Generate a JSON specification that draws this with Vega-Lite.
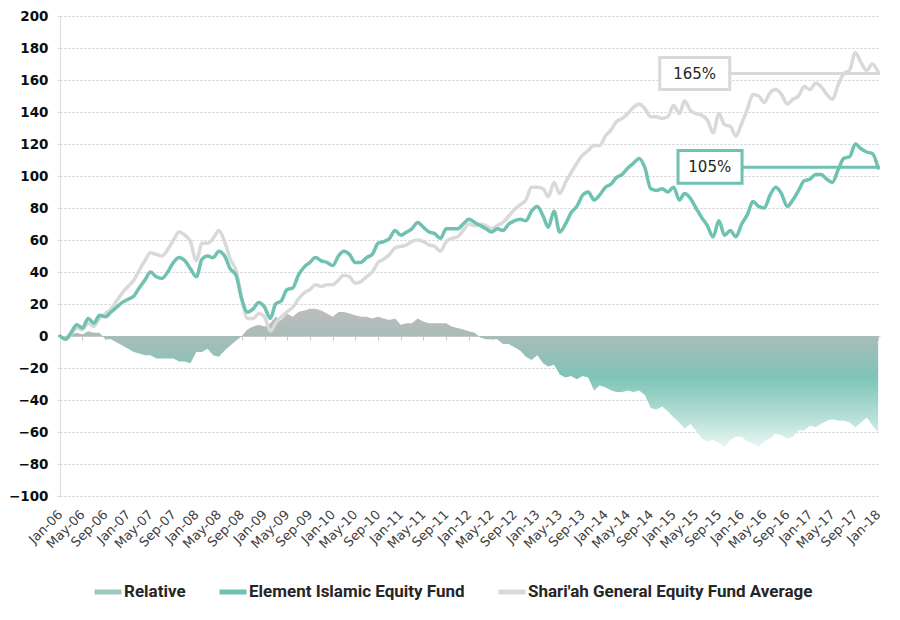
{
  "$schema": "https://vega.github.io/schema/vega-lite/v6.json",
  "width": 820,
  "height": 480,
  "autosize": {"type": "none"},
  "padding": {"left": 60, "top": 16, "right": 20, "bottom": 124},
  "background": "white",
  "config": {
    "view": {"stroke": null},
    "font": "DejaVu Sans",
    "axis": {"title": null},
    "axisY": {
      "tickCount": 20, "labelOverlap": false, "labelFlush": false, "labelBound": false,
      "grid": true, "gridColor": "#cfcfcf", "gridDash": [2, 2], "gridWidth": 1,
      "domain": true, "domainColor": "#d9d9d9", "ticks": true, "tickSize": 3, "tickColor": "#d9d9d9",
      "labelFont": "DejaVu Sans", "labelFontSize": 13.5, "labelFontWeight": "bold",
      "labelColor": "#0d0d0d", "labelPadding": 9
    },
    "axisX": {
      "labelOverlap": false, "labelFlush": false, "labelBound": false, "grid": false
    }
  },
  "datasets": {
    "series": [
      {"month":"2006-01-01","element":0,"shariah":0,"relative":0},
      {"month":"2006-02-01","element":-2,"shariah":-2,"relative":0},
      {"month":"2006-03-01","element":2,"shariah":1,"relative":1},
      {"month":"2006-04-01","element":7,"shariah":5,"relative":2},
      {"month":"2006-05-01","element":5,"shariah":4,"relative":1},
      {"month":"2006-06-01","element":11,"shariah":8,"relative":3},
      {"month":"2006-07-01","element":8,"shariah":6,"relative":2},
      {"month":"2006-08-01","element":13,"shariah":11,"relative":2},
      {"month":"2006-09-01","element":12,"shariah":14,"relative":-2},
      {"month":"2006-10-01","element":15,"shariah":17,"relative":-2},
      {"month":"2006-11-01","element":18,"shariah":22,"relative":-4},
      {"month":"2006-12-01","element":21,"shariah":27,"relative":-6},
      {"month":"2007-01-01","element":23,"shariah":31,"relative":-8},
      {"month":"2007-02-01","element":25,"shariah":35,"relative":-10},
      {"month":"2007-03-01","element":30,"shariah":41,"relative":-11},
      {"month":"2007-04-01","element":35,"shariah":47,"relative":-12},
      {"month":"2007-05-01","element":40,"shariah":52,"relative":-12},
      {"month":"2007-06-01","element":37,"shariah":51,"relative":-14},
      {"month":"2007-07-01","element":36,"shariah":50,"relative":-14},
      {"month":"2007-08-01","element":40,"shariah":54,"relative":-14},
      {"month":"2007-09-01","element":46,"shariah":60,"relative":-14},
      {"month":"2007-10-01","element":49,"shariah":65,"relative":-16},
      {"month":"2007-11-01","element":47,"shariah":63,"relative":-16},
      {"month":"2007-12-01","element":42,"shariah":59,"relative":-17},
      {"month":"2008-01-01","element":37,"shariah":47,"relative":-10},
      {"month":"2008-02-01","element":48,"shariah":58,"relative":-10},
      {"month":"2008-03-01","element":50,"shariah":58,"relative":-8},
      {"month":"2008-04-01","element":49,"shariah":61,"relative":-12},
      {"month":"2008-05-01","element":53,"shariah":66,"relative":-13},
      {"month":"2008-06-01","element":50,"shariah":59,"relative":-9},
      {"month":"2008-07-01","element":42,"shariah":48,"relative":-6},
      {"month":"2008-08-01","element":38,"shariah":41,"relative":-3},
      {"month":"2008-09-01","element":23,"shariah":23,"relative":0},
      {"month":"2008-10-01","element":15,"shariah":11,"relative":4},
      {"month":"2008-11-01","element":17,"shariah":11,"relative":6},
      {"month":"2008-12-01","element":21,"shariah":14,"relative":7},
      {"month":"2009-01-01","element":18,"shariah":12,"relative":6},
      {"month":"2009-02-01","element":11,"shariah":3,"relative":8},
      {"month":"2009-03-01","element":20,"shariah":8,"relative":12},
      {"month":"2009-04-01","element":22,"shariah":12,"relative":10},
      {"month":"2009-05-01","element":29,"shariah":15,"relative":14},
      {"month":"2009-06-01","element":30,"shariah":18,"relative":12},
      {"month":"2009-07-01","element":38,"shariah":23,"relative":15},
      {"month":"2009-08-01","element":43,"shariah":27,"relative":16},
      {"month":"2009-09-01","element":46,"shariah":29,"relative":17},
      {"month":"2009-10-01","element":49,"shariah":32,"relative":17},
      {"month":"2009-11-01","element":47,"shariah":31,"relative":16},
      {"month":"2009-12-01","element":46,"shariah":32,"relative":14},
      {"month":"2010-01-01","element":44,"shariah":32,"relative":12},
      {"month":"2010-02-01","element":50,"shariah":35,"relative":15},
      {"month":"2010-03-01","element":53,"shariah":38,"relative":15},
      {"month":"2010-04-01","element":51,"shariah":37,"relative":14},
      {"month":"2010-05-01","element":46,"shariah":33,"relative":13},
      {"month":"2010-06-01","element":46,"shariah":34,"relative":12},
      {"month":"2010-07-01","element":49,"shariah":37,"relative":12},
      {"month":"2010-08-01","element":51,"shariah":40,"relative":11},
      {"month":"2010-09-01","element":58,"shariah":46,"relative":12},
      {"month":"2010-10-01","element":59,"shariah":48,"relative":11},
      {"month":"2010-11-01","element":61,"shariah":51,"relative":10},
      {"month":"2010-12-01","element":66,"shariah":55,"relative":11},
      {"month":"2011-01-01","element":63,"shariah":56,"relative":7},
      {"month":"2011-02-01","element":65,"shariah":57,"relative":8},
      {"month":"2011-03-01","element":67,"shariah":59,"relative":8},
      {"month":"2011-04-01","element":71,"shariah":60,"relative":11},
      {"month":"2011-05-01","element":68,"shariah":59,"relative":9},
      {"month":"2011-06-01","element":65,"shariah":57,"relative":8},
      {"month":"2011-07-01","element":64,"shariah":56,"relative":8},
      {"month":"2011-08-01","element":61,"shariah":53,"relative":8},
      {"month":"2011-09-01","element":67,"shariah":59,"relative":8},
      {"month":"2011-10-01","element":67,"shariah":61,"relative":6},
      {"month":"2011-11-01","element":67,"shariah":62,"relative":5},
      {"month":"2011-12-01","element":70,"shariah":66,"relative":4},
      {"month":"2012-01-01","element":73,"shariah":70,"relative":3},
      {"month":"2012-02-01","element":71,"shariah":69,"relative":2},
      {"month":"2012-03-01","element":69,"shariah":70,"relative":-1},
      {"month":"2012-04-01","element":67,"shariah":69,"relative":-2},
      {"month":"2012-05-01","element":65,"shariah":67,"relative":-2},
      {"month":"2012-06-01","element":67,"shariah":69,"relative":-2},
      {"month":"2012-07-01","element":66,"shariah":71,"relative":-5},
      {"month":"2012-08-01","element":70,"shariah":75,"relative":-5},
      {"month":"2012-09-01","element":72,"shariah":79,"relative":-7},
      {"month":"2012-10-01","element":73,"shariah":82,"relative":-9},
      {"month":"2012-11-01","element":72,"shariah":85,"relative":-13},
      {"month":"2012-12-01","element":78,"shariah":93,"relative":-15},
      {"month":"2013-01-01","element":81,"shariah":93,"relative":-12},
      {"month":"2013-02-01","element":75,"shariah":92,"relative":-17},
      {"month":"2013-03-01","element":68,"shariah":87,"relative":-19},
      {"month":"2013-04-01","element":78,"shariah":96,"relative":-18},
      {"month":"2013-05-01","element":65,"shariah":89,"relative":-24},
      {"month":"2013-06-01","element":70,"shariah":96,"relative":-26},
      {"month":"2013-07-01","element":77,"shariah":102,"relative":-25},
      {"month":"2013-08-01","element":81,"shariah":108,"relative":-27},
      {"month":"2013-09-01","element":88,"shariah":113,"relative":-25},
      {"month":"2013-10-01","element":90,"shariah":116,"relative":-26},
      {"month":"2013-11-01","element":85,"shariah":119,"relative":-34},
      {"month":"2013-12-01","element":88,"shariah":119,"relative":-31},
      {"month":"2014-01-01","element":93,"shariah":125,"relative":-32},
      {"month":"2014-02-01","element":95,"shariah":129,"relative":-34},
      {"month":"2014-03-01","element":99,"shariah":134,"relative":-35},
      {"month":"2014-04-01","element":101,"shariah":136,"relative":-35},
      {"month":"2014-05-01","element":105,"shariah":139,"relative":-34},
      {"month":"2014-06-01","element":108,"shariah":143,"relative":-35},
      {"month":"2014-07-01","element":111,"shariah":145,"relative":-34},
      {"month":"2014-08-01","element":105,"shariah":142,"relative":-37},
      {"month":"2014-09-01","element":92,"shariah":137,"relative":-45},
      {"month":"2014-10-01","element":91,"shariah":137,"relative":-46},
      {"month":"2014-11-01","element":92,"shariah":136,"relative":-44},
      {"month":"2014-12-01","element":90,"shariah":137,"relative":-47},
      {"month":"2015-01-01","element":93,"shariah":144,"relative":-51},
      {"month":"2015-02-01","element":85,"shariah":139,"relative":-54},
      {"month":"2015-03-01","element":89,"shariah":147,"relative":-58},
      {"month":"2015-04-01","element":86,"shariah":141,"relative":-55},
      {"month":"2015-05-01","element":80,"shariah":139,"relative":-59},
      {"month":"2015-06-01","element":74,"shariah":138,"relative":-64},
      {"month":"2015-07-01","element":69,"shariah":135,"relative":-66},
      {"month":"2015-08-01","element":62,"shariah":127,"relative":-65},
      {"month":"2015-09-01","element":72,"shariah":139,"relative":-67},
      {"month":"2015-10-01","element":63,"shariah":132,"relative":-69},
      {"month":"2015-11-01","element":66,"shariah":131,"relative":-65},
      {"month":"2015-12-01","element":62,"shariah":125,"relative":-63},
      {"month":"2016-01-01","element":70,"shariah":133,"relative":-63},
      {"month":"2016-02-01","element":76,"shariah":142,"relative":-66},
      {"month":"2016-03-01","element":84,"shariah":151,"relative":-67},
      {"month":"2016-04-01","element":81,"shariah":150,"relative":-69},
      {"month":"2016-05-01","element":80,"shariah":146,"relative":-66},
      {"month":"2016-06-01","element":88,"shariah":152,"relative":-64},
      {"month":"2016-07-01","element":93,"shariah":154,"relative":-61},
      {"month":"2016-08-01","element":89,"shariah":151,"relative":-62},
      {"month":"2016-09-01","element":81,"shariah":145,"relative":-64},
      {"month":"2016-10-01","element":85,"shariah":148,"relative":-63},
      {"month":"2016-11-01","element":91,"shariah":150,"relative":-59},
      {"month":"2016-12-01","element":97,"shariah":156,"relative":-59},
      {"month":"2017-01-01","element":98,"shariah":154,"relative":-56},
      {"month":"2017-02-01","element":101,"shariah":158,"relative":-57},
      {"month":"2017-03-01","element":101,"shariah":156,"relative":-55},
      {"month":"2017-04-01","element":98,"shariah":151,"relative":-53},
      {"month":"2017-05-01","element":96,"shariah":148,"relative":-52},
      {"month":"2017-06-01","element":104,"shariah":157,"relative":-53},
      {"month":"2017-07-01","element":111,"shariah":164,"relative":-53},
      {"month":"2017-08-01","element":112,"shariah":166,"relative":-54},
      {"month":"2017-09-01","element":120,"shariah":177,"relative":-57},
      {"month":"2017-10-01","element":117,"shariah":171,"relative":-54},
      {"month":"2017-11-01","element":115,"shariah":166,"relative":-51},
      {"month":"2017-12-01","element":114,"shariah":170,"relative":-56},
      {"month":"2018-01-01","element":105,"shariah":165,"relative":-60}
    ],
    "notes": [
      {"label":"165%","series":"Shari'ah General Equity Fund Average","value":164,"lo":154,"hi":174,"boxStart":"2014-10-19","boxEnd":"2015-10-29","mid":"2015-04-24","lineEnd":"2018-01-11"},
      {"label":"105%","series":"Element Islamic Equity Fund","value":105.5,"lo":95.5,"hi":116,"boxStart":"2015-01-25","boxEnd":"2016-01-03","mid":"2015-07-14","lineEnd":"2018-01-11"}
    ]
  },
  "layer": [
    {
      "data": {"name": "series"},
      "mark": {
        "type": "area",
        "interpolate": "linear",
        "color": {
          "gradient": "linear", "x1": 0, "y1": 0, "x2": 0, "y2": 1,
          "stops": [
            {"offset": 0, "color": "#bdbdbd"},
            {"offset": 0.19, "color": "#a9bcb8"},
            {"offset": 0.5, "color": "#7ec4b8"},
            {"offset": 0.8, "color": "#b9e0d8"},
            {"offset": 1, "color": "#e8f5f2"}
          ]
        }
      },
      "encoding": {
        "x": {
          "field": "month", "type": "temporal",
          "scale": {"type": "utc", "domain": [{"year": 2006, "month": 1, "date": 1, "utc": true}, {"year": 2018, "month": 1, "date": 11, "utc": true}]},
          "axis": {
            "title": null, "orient": "bottom", "offset": -160,
            "tickCount": {"interval": "month", "step": 4},
            "format": "%b-%y",
            "labelAngle": -45, "labelAlign": "right", "labelBaseline": "middle",
            "labelPadding": 172, "labelFont": "DejaVu Sans", "labelFontSize": 13,
            "labelColor": "#404040", "labelOverlap": false, "labelFlush": false, "labelBound": false,
            "grid": false, "domainColor": "#c8c8c8", "tickColor": "#c8c8c8", "tickSize": 4
          }
        },
        "y": {
          "field": "relative", "type": "quantitative",
          "scale": {"domain": [-100, 200], "nice": false},
          "axis": {
            "title": null,
            "values": [-100, -80, -60, -40, -20, 0, 20, 40, 60, 80, 100, 120, 140, 160, 180, 200],
            "tickCount": 20,
            "labelOverlap": false
          }
        }
      }
    },
    {
      "data": {"name": "series"},
      "mark": {"type": "line", "interpolate": "monotone", "strokeWidth": 3.5, "strokeCap": "round", "strokeJoin": "round"},
      "encoding": {
        "x": {"field": "month", "type": "temporal"},
        "y": {"field": "shariah", "type": "quantitative"},
        "color": {
          "datum": "Shari'ah General Equity Fund Average",
          "scale": {
            "domain": ["Relative", "Element Islamic Equity Fund", "Shari'ah General Equity Fund Average"],
            "range": ["#9fc8c0", "#6fc1b1", "#d9d9d9"]
          },
          "legend": {
            "title": null, "orient": "none", "legendX": 32, "legendY": 560,
            "direction": "horizontal", "symbolType": "stroke", "symbolSize": 729,
            "symbolStrokeWidth": 5, "labelFont": "Roboto", "labelFontSize": 17,
            "labelFontWeight": "bold", "labelColor": "#262626", "columnPadding": 23,
            "labelOffset": 0, "padding": 0, "labelLimit": 0
          }
        }
      }
    },
    {
      "data": {"name": "series"},
      "mark": {"type": "line", "interpolate": "monotone", "strokeWidth": 3.5, "strokeCap": "round", "strokeJoin": "round"},
      "encoding": {
        "x": {"field": "month", "type": "temporal"},
        "y": {"field": "element", "type": "quantitative"},
        "color": {"datum": "Element Islamic Equity Fund"}
      }
    },
    {
      "data": {"name": "notes"},
      "mark": {"type": "rule", "strokeWidth": 3},
      "encoding": {
        "x": {"field": "boxEnd", "type": "temporal"},
        "x2": {"field": "lineEnd"},
        "y": {"field": "value", "type": "quantitative"},
        "stroke": {"field": "series", "type": "nominal", "legend": null,
          "scale": {"domain": ["Element Islamic Equity Fund", "Shari'ah General Equity Fund Average"], "range": ["#6fc1b1", "#d9d9d9"]}}
      }
    },
    {
      "data": {"name": "notes"},
      "mark": {"type": "rect", "fill": "white", "strokeWidth": 3},
      "encoding": {
        "x": {"field": "boxStart", "type": "temporal"},
        "x2": {"field": "boxEnd"},
        "y": {"field": "lo", "type": "quantitative"},
        "y2": {"field": "hi"},
        "stroke": {"field": "series", "type": "nominal", "legend": null}
      }
    },
    {
      "data": {"name": "notes"},
      "mark": {"type": "text", "font": "DejaVu Sans", "fontSize": 15, "color": "#262626", "align": "center", "baseline": "middle"},
      "encoding": {
        "x": {"field": "mid", "type": "temporal"},
        "y": {"field": "value", "type": "quantitative"},
        "text": {"field": "label"}
      }
    }
  ]
}
